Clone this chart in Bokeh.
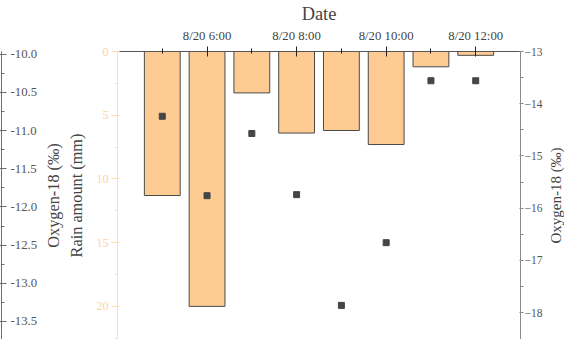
from bokeh.plotting import figure
from bokeh.models import Range1d, LinearAxis, FixedTicker, NumeralTickFormatter
from bokeh.layouts import row
from bokeh.embed import file_html
from bokeh.resources import INLINE

# ---- data ----
hours = [5, 6, 7, 8, 9, 10, 11, 12]
rain_mm = [11.3, 20.0, 3.25, 6.4, 6.2, 7.3, 1.2, 0.3]
oxygen18 = [-14.24, -15.76, -14.57, -15.74, -17.86, -16.66, -13.56, -13.56]

date_ticks = [6, 8, 10, 12]
date_labels = ["8/20 6:00", "8/20 8:00", "8/20 10:00", "8/20 12:00"]
date_minor = [5, 7, 9, 11]

rain_ticks = [0, 5, 10, 15, 20]
rain_minor = [2.5, 7.5, 12.5, 17.5, 22.5]
oxy_right_ticks = [-13, -14, -15, -16, -17, -18]
oxy_right_minor = [-13.5, -14.5, -15.5, -16.5, -17.5]
oxy_left_ticks = [-10.0, -10.5, -11.0, -11.5, -12.0, -12.5, -13.0, -13.5]
oxy_left_minor = [-10.25, -10.75, -11.25, -11.75, -12.25, -12.75, -13.25]

FONT = "Liberation Serif"
H = 339
TOP = 46
OXY_R = (-18.513, -13)
OXY_L = (-13.736, -9.9645)
RAIN = (22.6, 0)


def bare(fig):
    fig.outline_line_color = None
    fig.xgrid.visible = False
    fig.ygrid.visible = False


# ---- far-left oxygen axis (narrow figure, axis on its right) ----
WA = 40
pA = figure(width=WA, height=H, output_backend="svg", toolbar_location=None,
            x_range=Range1d(0, 1), y_range=Range1d(*OXY_L),
            x_axis_location=None, y_axis_location="right",
            min_border_left=0, min_border_right=WA - 1,
            min_border_top=TOP, min_border_bottom=0)
bare(pA)
ax = pA.yaxis[0]
ax.ticker = FixedTicker(ticks=oxy_left_ticks, minor_ticks=oxy_left_minor)
ax.formatter = NumeralTickFormatter(format="0.0")
ax.axis_line_color = "#6e6e6e"
ax.major_tick_line_color = "#6e6e6e"
ax.minor_tick_line_color = "#6e6e6e"
ax.major_tick_in = 2
ax.major_tick_out = 5
ax.minor_tick_in = 0
ax.minor_tick_out = 3
ax.major_label_standoff = 4
ax.major_label_text_font = FONT
ax.major_label_text_font_size = "12.8px"
ax.major_label_text_color = "#555555"

# ---- right label-only figure ----
WC = 18
pC = figure(width=WC, height=H, output_backend="svg", toolbar_location=None,
            x_range=Range1d(0, 1), y_range=Range1d(*OXY_R),
            x_axis_location=None, y_axis_location="left",
            min_border_left=WC - 1, min_border_right=0,
            min_border_top=TOP, min_border_bottom=0)
bare(pC)
ca = pC.yaxis[0]
ca.ticker = FixedTicker(ticks=[])
ca.axis_line_color = None
ca.major_tick_out = 0
ca.major_tick_in = 0
ca.minor_tick_out = 0
ca.minor_tick_in = 0
ca.major_label_standoff = 0
ca.axis_label = "Oxygen-18 (\u2030)"
ca.axis_label_standoff = 0
ca.axis_label_text_font = FONT
ca.axis_label_text_font_size = "15px"
ca.axis_label_text_font_style = "normal"

# ---- main figure ----
WM = 563 - WA - WC
p = figure(width=WM, height=H, output_backend="svg", toolbar_location=None,
           x_range=Range1d(4, 13), y_range=Range1d(*RAIN),
           x_axis_location="above",
           min_border_left=70, min_border_right=19,
           min_border_top=TOP, min_border_bottom=0)
bare(p)
p.extra_y_ranges = {"oxy": Range1d(*OXY_R)}

p.vbar(x=hours, width=0.8, top=0, bottom=rain_mm, fill_color="#FECB92",
       line_color="#4a4a4a", line_width=1)
p.scatter(x=hours, y=oxygen18, marker="square", size=6, color="#454545",
          y_range_name="oxy")

# top date axis
xa = p.xaxis[0]
xa.ticker = FixedTicker(ticks=date_ticks, minor_ticks=date_minor)
xa.major_label_overrides = dict(zip(date_ticks, date_labels))
xa.axis_label = "Date"
xa.axis_label_text_font = FONT
xa.axis_label_text_font_size = "18.4px"
xa.axis_label_text_font_style = "normal"
xa.axis_label_standoff = 2
xa.major_label_text_font = FONT
xa.major_label_text_font_size = "12.75px"
xa.major_label_standoff = 4
xa.axis_line_color = "#555555"
xa.major_tick_line_color = "#222222"
xa.minor_tick_line_color = "#222222"
xa.major_tick_in = 5
xa.major_tick_out = 5
xa.minor_tick_in = 2
xa.minor_tick_out = 3

# rain axis (left)
ya = p.yaxis[0]
ya.ticker = FixedTicker(ticks=rain_ticks, minor_ticks=rain_minor)
ya.axis_label = "Oxygen-18 (\u2030)\nRain amount (mm)"
ya.axis_label_text_font = FONT
ya.axis_label_text_font_size = "16.3px"
ya.axis_label_text_font_style = "normal"
ya.axis_label_standoff = 8
ya.major_label_text_font = FONT
ya.major_label_text_font_size = "12px"
ya.major_label_text_color = "#FDD3A2"
ya.axis_line_color = "#FFDDB5"
ya.major_tick_line_color = "#FFDDB5"
ya.minor_tick_line_color = "#FFDDB5"
ya.major_tick_in = 2
ya.major_tick_out = 6
ya.minor_tick_in = 0
ya.minor_tick_out = 3
ya.major_label_standoff = 3

# right oxygen axis (ticks and labels)
ra = LinearAxis(y_range_name="oxy")
ra.ticker = FixedTicker(ticks=oxy_right_ticks, minor_ticks=oxy_right_minor)
ra.major_label_text_font = FONT
ra.major_label_text_font_size = "11.5px"
ra.major_label_text_color = "#555555"
ra.axis_line_color = "#8a8a8a"
ra.major_tick_line_color = "#8a8a8a"
ra.minor_tick_line_color = "#8a8a8a"
ra.major_tick_in = 1
ra.major_tick_out = 3
ra.minor_tick_in = 0
ra.minor_tick_out = 3
ra.major_label_standoff = 1
p.add_layout(ra, "right")

layout = row(pA, p, pC)
open("out.html", "w").write(file_html(layout, INLINE))
